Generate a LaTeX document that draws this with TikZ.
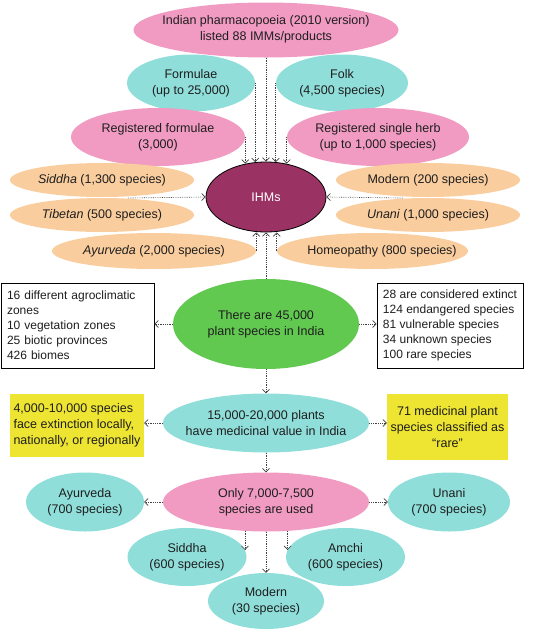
\documentclass[tikz,border=0pt]{standalone}
\usepackage{fontspec}
\setmainfont{Liberation Sans}
\usetikzlibrary{arrows.meta,calc,shapes.geometric}
\definecolor{cpink}{RGB}{241,155,195}
\definecolor{cteal}{RGB}{143,222,218}
\definecolor{corange}{RGB}{250,205,158}
\definecolor{cmaroon}{RGB}{155,50,100}
\definecolor{cgreen}{RGB}{97,200,80}
\definecolor{cyellow}{RGB}{238,228,50}
\definecolor{ctext}{RGB}{30,30,30}
\tikzset{
  ell/.style={ellipse, inner sep=0pt, draw=none},
  txt/.style={align=center, inner sep=0pt, text=ctext, font=\fontsize{12.5}{16}\selectfont},
  wbox/.style={rectangle, draw=black, line width=0.9pt, fill=white, inner xsep=6pt, inner ysep=0pt,
     text=ctext, font=\fontsize{12}{15}\selectfont},
  ybox/.style={rectangle, fill=cyellow, inner sep=0pt, text=ctext, font=\fontsize{12.5}{16}\selectfont},
  arr/.style={draw=black!75, line width=0.65pt, dash pattern=on 0.7pt off 1.1pt,
     -{Straight Barb[length=3.5pt,width=7pt,line width=0.7pt]}}
}
\begin{document}
\begin{tikzpicture}[x=1pt,y=-1pt]
\useasboundingbox (0,0) rectangle (550,630);

% top group
\node[ell, fill=cpink, minimum width=265pt, minimum height=55pt] (top) at (266,30) {};
\node[ell, fill=cteal, minimum width=128pt, minimum height=57pt] (form) at (191,83) {};
\node[ell, fill=cteal, minimum width=132pt, minimum height=57pt] (folk) at (342,83) {};
\node[ell, fill=cpink, minimum width=174pt, minimum height=58pt] (regf) at (158,137) {};
\node[ell, fill=cpink, minimum width=182pt, minimum height=58pt] (regs) at (378,137) {};

\node[txt] (top-t) at (266,29) {Indian pharmacopoeia (2010 version)\\listed 88 IMMs/products};
\node[txt] (form-t) at (form) {Formulae\\(up to 25,000)};
\node[txt] (folk-t) at (folk) {Folk\\(4,500 species)};
\node[txt] (regf-t) at (regf) {Registered formulae\\(3,000)};
\node[txt] (regs-t) at (regs) {Registered single herb\\(up to 1,000 species)};

% orange group
\node[ell, fill=corange, minimum width=184pt, minimum height=34pt] (sid) at (102,180) {};
\node[ell, fill=corange, minimum width=184pt, minimum height=34pt] (tib) at (102,215) {};
\node[ell, fill=corange, minimum width=204pt, minimum height=36pt] (ayu) at (154,251) {};
\node[ell, fill=corange, minimum width=184pt, minimum height=34pt] (mod) at (428,180) {};
\node[ell, fill=corange, minimum width=184pt, minimum height=34pt] (una) at (428,215) {};
\node[ell, fill=corange, minimum width=191pt, minimum height=36pt] (hom) at (372.5,251) {};

\node[txt] (sid-t) at (sid) {\textit{Siddha} (1,300 species)};
\node[txt] (tib-t) at (tib) {\textit{Tibetan} (500 species)};
\node[txt] (ayu-t) at (ayu) {\textit{Ayurveda} (2,000 species)};
\node[txt] (mod-t) at (mod) {Modern (200 species)};
\node[txt] (una-t) at (una) {\textit{Unani} (1,000 species)};
\node[txt] (hom-t) at (382,251) {Homeopathy (800 species)};

\node[ell, fill=cmaroon, draw=black, line width=0.8pt, minimum width=120pt, minimum height=70pt] (ihm) at (266,197) {};
\node[txt, text=white] (ihm-t) at (ihm) {IHMs};

\coordinate (lsrc) at (128,198);
\coordinate (rsrc) at (403,198);

% green
\node[ell, fill=cgreen, minimum width=186pt, minimum height=90pt] (green) at (266,324) {};
\node[txt] (green-t) at (green) {There are 45,000\\plant species in India};
\node[wbox, text width=141pt, align=left, minimum height=85pt] (lbox) at (77.5,325.5)
  {16 different agroclimatic\\zones\\10 vegetation zones\\25 biotic provinces\\426 biomes};
\node[wbox, align=left, minimum width=144pt, minimum height=85pt] (rbox) at (450,325.5)
  {28 are considered extinct\\124 endangered species\\81 vulnerable species\\34 unknown species\\100 rare species};

% medicinal
\node[ell, fill=cteal, minimum width=206pt, minimum height=59pt] (med) at (266,423) {};
\node[txt] (med-t) at (med) {15,000-20,000 plants\\have medicinal value in India};
\node[ybox, align=left, minimum width=134pt, minimum height=63pt] (ylbox) at (77,425.5)
  {4,000-10,000 species\\face extinction locally,\\nationally, or regionally};
\node[ybox, align=center, minimum width=121pt, minimum height=66pt] (yrbox) at (447.5,427)
  {71 medicinal plant\\species classified as\\“rare”};

% used
\node[ell, fill=cpink, minimum width=206pt, minimum height=59pt] (used) at (266,502) {};
\node[txt] (used-t) at (used) {Only 7,000-7,500\\species are used};
\node[ell, fill=cteal, minimum width=118pt, minimum height=59pt] (ayu2) at (85,502) {};
\node[txt] (ayu2-t) at (ayu2) {Ayurveda\\(700 species)};
\node[ell, fill=cteal, minimum width=122pt, minimum height=59pt] (uni2) at (449,502) {};
\node[txt] (uni2-t) at (uni2) {Unani\\(700 species)};
\node[ell, fill=cteal, minimum width=119pt, minimum height=58pt] (sid2) at (187,557) {};
\node[txt] (sid2-t) at (sid2) {Siddha\\(600 species)};
\node[ell, fill=cteal, minimum width=119pt, minimum height=58pt] (amc) at (345.5,557) {};
\node[txt] (amc-t) at (amc) {Amchi\\(600 species)};
\node[ell, fill=cteal, minimum width=116pt, minimum height=56pt] (mod2) at (266,601) {};
\node[txt] (mod2-t) at (mod2) {Modern\\(30 species)};

% arrows into IHMs
\draw[arr] (top.south) -- (ihm.north);
\draw[arr] (form.east) -- ($(form.east |- ihm.north)+(0,0.5)$);
\draw[arr] (folk.west) -- ($(folk.west |- ihm.north)+(0,0.5)$);
\draw[arr] (regf.east) -- ($(regf.east |- ihm.north)+(0,2)$);
\draw[arr] (regs.west) -- ($(regs.west |- ihm.north)+(0,2)$);
\draw[arr] (lsrc) -- (ihm.west);
\draw[arr] (rsrc) -- (ihm.east);
\draw[arr] (ayu.east) -- (ayu.east |- ihm.south);
\draw[arr] (hom.west) -- (hom.west |- ihm.south);
\draw[arr] (green.north) -- (ihm.south);

% green arrows
\draw[arr] (green.west) -- (green.west -| lbox.east);
\draw[arr] (green.east) -- (green.east -| rbox.west);
\draw[arr] (green.south) -- (med.north);

% medicinal arrows
\draw[arr] (med.west) -- (med.west -| ylbox.east);
\draw[arr] (med.east) -- (med.east -| yrbox.west);
\draw[arr] (med.south) -- (used.north);

% used arrows
\draw[arr] (used.west) -- (ayu2.east);
\draw[arr] (used.east) -- (uni2.west);
\draw[arr] (used.south) -- (mod2.north);
\draw[arr] ($(sid2.7 |- used.south)+(0,-1)$) -- (sid2.7);
\draw[arr] ($(amc.173 |- used.south)+(0,-1)$) -- (amc.173);
\end{tikzpicture}
\end{document}
